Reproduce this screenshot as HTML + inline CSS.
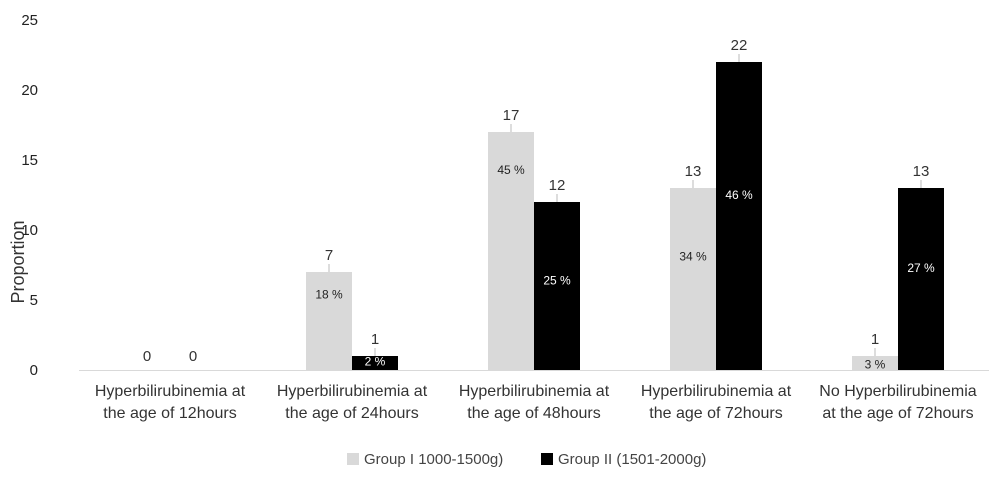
<!DOCTYPE html>
<html><head><meta charset="utf-8"><style>
body{margin:0;background:#fff;width:1000px;height:476px;overflow:hidden}
text{font-family:"Liberation Sans",sans-serif}
</style></head><body>
<svg width="1000" height="476" id="c">
<text x="24" y="262" transform="rotate(-90 24 262)" text-anchor="middle" font-size="18" fill="#333">Proportion</text>
<g>
<rect x="347" y="453" width="12" height="12" fill="#d9d9d9"/>
<text x="364" y="464" font-size="15" fill="#444">Group I 1000-1500g)</text>
<rect x="541" y="453" width="12" height="12" fill="#000"/>
<text x="558" y="464" font-size="15" fill="#444">Group II (1501-2000g)</text>
</g>
</svg>
<script>
const categories=[["Hyperbilirubinemia at","the age of 12hours"],["Hyperbilirubinemia at","the age of 24hours"],["Hyperbilirubinemia at","the age of 48hours"],["Hyperbilirubinemia at","the age of 72hours"],["No Hyperbilirubinemia","at the age of 72hours"]];
const group1=[0,7,17,13,1];
const group2=[0,1,12,22,13];
const pct1=["","18 %","45 %","34 %","3 %"];
const pct2=["","2 %","25 %","46 %","27 %"];
const pctAt1=[0,5.4,14.3,8.1,0.4];
const pctAt2=[0,0.6,6.4,12.5,7.3];
const yTicks=[0,5,10,15,20,25];
const svg=document.getElementById('c');
const NS='http://www.w3.org/2000/svg';
const y0=370,py=14,x0=79,step=182,bw=46;
const y=v=>y0-v*py;
const cx=i=>x0+step*(i+0.5);
function mk(t,a,txt){const e=document.createElementNS(NS,t);for(const k in a)e.setAttribute(k,a[k]);if(txt!=null)e.textContent=txt;svg.appendChild(e);return e;}
yTicks.forEach(v=>{
 const t=mk('text',{x:38,y:y(v)+5,'text-anchor':'end','font-size':15,fill:'#222'},v);
 
 
});
const ax=mk('line',{x1:x0,x2:989,y1:y0+0.5,y2:y0+0.5,stroke:'#d9d9d9'});


categories.forEach((c,i)=>{
 c.forEach((l,j)=>{
  const t=mk('text',{x:cx(i),y:396+j*22,'text-anchor':'middle','font-size':16,fill:'#333'},l);
  
  
 });
 [[group1,'#d9d9d9',-bw,pct1,pctAt1,'#222','group-1'],[group2,'#000',0,pct2,pctAt2,'#fff','group-2']].forEach(([s,col,off,pc,pa,tc,nm])=>{
  const v=s[i],bx=cx(i)+off;
  if(v>0){
   const r=mk('rect',{x:bx,y:y(v),width:bw,height:v*py,fill:col});
   
   
   const ln=mk('line',{x1:bx+bw/2,x2:bx+bw/2,y1:y(v),y2:y(v)-8,stroke:'#bbb'});
   
   
  }
  const vl=mk('text',{x:bx+bw/2,y:y(v)-(v>0?12:9),'text-anchor':'middle','font-size':15,fill:'#333'},v);
  
  
  if(pc[i]){
   const pl=mk('text',{x:bx+bw/2,y:y(pa[i])+4,'text-anchor':'middle','font-size':12,fill:tc},pc[i]);
   
   
  }
 });
});
</script>
</body></html>
